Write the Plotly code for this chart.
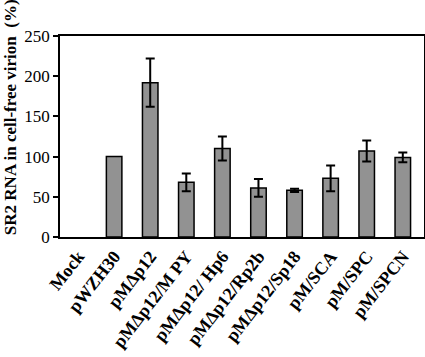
import plotly.graph_objects as go

categories = ["Mock", "pWZH30", "pMΔp12", "pMΔp12/M PY", "pMΔp12/ Hp6",
              "pMΔp12/Rp2b", "pMΔp12/Sp18", "pM/SCA", "pM/SPC", "pM/SPCN"]
values = [0, 100, 192, 68, 110, 61, 58, 73, 107, 99]
errors = [None, None, 30, 11, 15, 11, 2, 16, 13, 6]
y_ticks = [0, 50, 100, 150, 200, 250]
y_title = "SR2 RNA in cell-free virion  (%)"

font_family = "Liberation Serif, Times New Roman, serif"

err_x = [c for c, e in zip(categories, errors) if e is not None]
err_y = [v for v, e in zip(values, errors) if e is not None]
err_v = [e for e in errors if e is not None]

fig = go.Figure()
fig.add_trace(go.Bar(
    x=categories,
    y=values,
    marker=dict(color="#929292",
                line=dict(color="black", width=[0 if v == 0 else 1.5 for v in values])),
    width=0.43,
))
fig.add_trace(go.Scatter(
    x=err_x, y=err_y, mode="markers",
    marker=dict(size=1, opacity=0),
    error_y=dict(type="data", array=err_v, visible=True, color="black",
                 thickness=2, width=4.5),
    hoverinfo="skip",
))

fig.update_layout(
    width=425, height=357,
    margin=dict(l=60, r=1, t=36, b=120),
    paper_bgcolor="white", plot_bgcolor="white",
    showlegend=False,
    font=dict(family=font_family, color="black", size=16),
    xaxis=dict(
        tickangle=-52, automargin=False,
        tickfont=dict(family=font_family, size=18, color="black", weight="bold"),
        showline=True, linecolor="black", linewidth=1.5, mirror=True,
        ticks="", showgrid=False,
    ),
    yaxis=dict(
        range=[0, 250], tickvals=y_ticks, automargin=False,
        tickfont=dict(family=font_family, size=17, color="black"),
        showline=True, linecolor="black", linewidth=1.5, mirror=True,
        ticks="outside", ticklen=5, tickwidth=1.5, tickcolor="black",
        showgrid=False, zeroline=False,
    ),
    annotations=[dict(
        text=y_title, textangle=-90, xref="paper", yref="paper",
        x=-0.137, y=0.597, xanchor="center", yanchor="middle", showarrow=False,
        font=dict(family=font_family, size=17, color="black", weight="bold"),
    )],
)

fig.write_html("out.html", config={"displayModeBar": False},
               post_script="document.body.style.margin='0';")
